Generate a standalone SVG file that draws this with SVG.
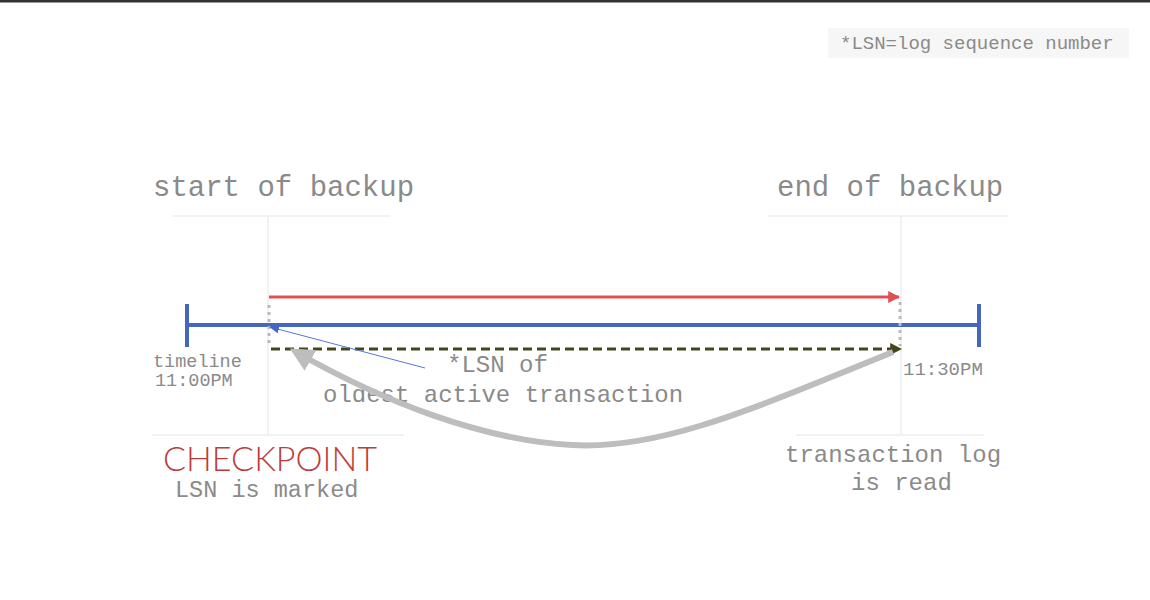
<svg xmlns="http://www.w3.org/2000/svg" width="1150" height="600" viewBox="0 0 1150 600">
<style>
.m{font-family:"Liberation Mono","DejaVu Sans Mono",monospace;fill:#8a8a8a}
.g{stroke:#eeeeee;stroke-width:1.5;fill:none}
</style>
<defs>
<marker id="ar" viewBox="0 0 10 10" refX="9" refY="5" markerWidth="4" markerHeight="4" orient="auto" markerUnits="strokeWidth"><path d="M0,0 L10,5 L0,10 z" fill="#e05050"/></marker>
<marker id="ao" viewBox="0 0 10 10" refX="9" refY="5" markerWidth="4" markerHeight="4" orient="auto" markerUnits="strokeWidth"><path d="M0,0 L10,5 L0,10 z" fill="#45451c"/></marker>
<marker id="ab" viewBox="0 0 10 10" refX="9" refY="5" markerWidth="10" markerHeight="10" orient="auto" markerUnits="strokeWidth"><path d="M0,1 L10,5 L0,9 z" fill="#4466cc"/></marker>
<marker id="ag" viewBox="0 0 10 10" refX="7" refY="5" markerWidth="4" markerHeight="4" orient="auto" markerUnits="strokeWidth"><path d="M0,0 L10,5 L0,10 z" fill="#bdbdbd"/></marker>
</defs>
<rect width="1150" height="600" fill="#ffffff"/>
<rect x="0" y="0" width="1150" height="2.5" fill="#333"/>
<g id="legend">
<rect x="828" y="28" width="301" height="30" fill="#f6f6f6"/>
<text class="m" x="840" y="49" font-size="19">*LSN=log sequence number</text>
</g>
<g id="start">
<text class="m" x="153" y="196" font-size="29">start of backup</text>
<line class="g" x1="173" y1="216" x2="390" y2="216"/>
<line class="g" x1="268" y1="216" x2="268" y2="435"/>
<line class="g" x1="152" y1="435" x2="404" y2="435"/>
</g>
<g id="end">
<text class="m" x="777" y="196" font-size="29">end of backup</text>
<line class="g" x1="768" y1="216" x2="1008" y2="216"/>
<line class="g" x1="901" y1="216" x2="901" y2="435"/>
<line class="g" x1="796" y1="435" x2="984" y2="435"/>
</g>
<g id="timeline">
<line x1="187" y1="325" x2="979" y2="325" stroke="#4466bb" stroke-width="4"/>
<line x1="187" y1="304" x2="187" y2="347" stroke="#4466bb" stroke-width="4"/>
<line x1="979" y1="304" x2="979" y2="347" stroke="#4466bb" stroke-width="4"/>
<text class="m" x="153" y="367" font-size="18.5">timeline</text>
<text class="m" x="155" y="386" font-size="18.5">11:00PM</text>
<text class="m" x="903" y="375" font-size="19">11:30PM</text>
</g>
<g id="checkpoint">
<text x="163" y="471" font-family="Lato,'Liberation Sans',sans-serif" font-weight="300" font-size="33" fill="#c0393b" textLength="214" lengthAdjust="spacingAndGlyphs">CHECKPOINT</text>
<text class="m" x="175" y="497" font-size="23.5">LSN is marked</text>
</g>
<g id="txlog">
<text class="m" x="785" y="462" font-size="24">transaction log</text>
<text class="m" x="851" y="490" font-size="24">is read</text>
</g>
<g id="lsnlabel">
<text class="m" x="447" y="372" font-size="24">*LSN of</text>
<text class="m" x="323" y="402" font-size="24">oldest active transaction</text>
</g>
<g id="connectors">
<line x1="269" y1="305" x2="269" y2="346" stroke="#bbbbbb" stroke-width="3" stroke-dasharray="3 4"/>
<line x1="900" y1="302" x2="900" y2="346" stroke="#bbbbbb" stroke-width="3" stroke-dasharray="3 4"/>
<line x1="269" y1="297" x2="899" y2="297" stroke="#e05050" stroke-width="3" marker-end="url(#ar)"/>
<line x1="271" y1="349" x2="901" y2="349" stroke="#45451c" stroke-width="3" stroke-dasharray="9 5" marker-end="url(#ao)"/>
<line x1="425" y1="368" x2="270" y2="327" stroke="#5577dd" stroke-width="1" marker-end="url(#ab)"/>
<path d="M893,352 C750,410 660,450 572,445 C480,440 380,400 296,352" fill="none" stroke="#bdbdbd" stroke-width="6" marker-end="url(#ag)"/>
</g>
</svg>
